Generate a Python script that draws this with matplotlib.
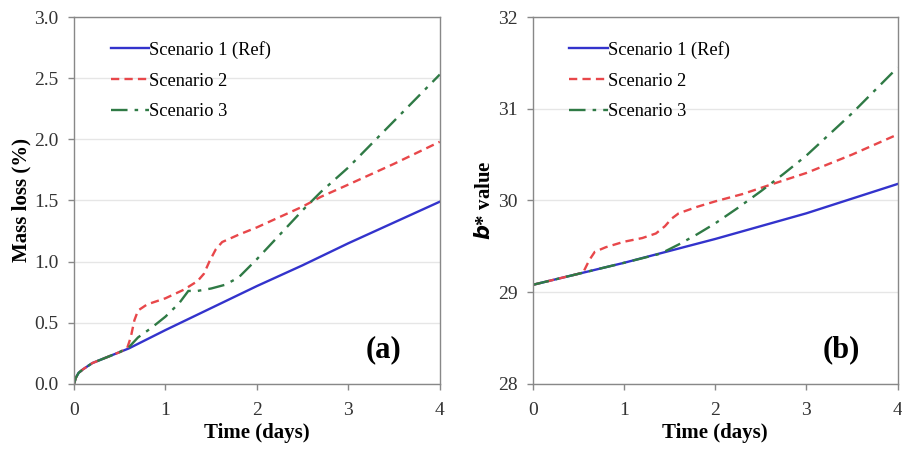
import numpy as np
import matplotlib
matplotlib.use('Agg')
import matplotlib.pyplot as plt

plt.rcParams['font.family'] = ['Liberation Serif', 'DejaVu Serif']

# panel (a): mass loss (%)
t1_a = [0, 0.02, 0.05, 0.1, 0.2, 0.3, 0.4, 0.5, 0.6, 1.0, 1.5, 2.0, 2.5, 3.0, 3.5, 4.0]
s1_a = [0, 0.05, 0.09, 0.12, 0.17, 0.20, 0.23, 0.26, 0.29, 0.44, 0.62, 0.80, 0.97, 1.15, 1.32, 1.49]

t2_a = [0, 0.02, 0.05, 0.1, 0.2, 0.3, 0.4, 0.5, 0.58, 0.62, 0.66, 0.7, 0.8, 1.0, 1.2, 1.35, 1.42,
        1.48, 1.55, 1.62, 1.8, 2.0, 2.5, 2.7, 3.0, 3.5, 4.0]
s2_a = [0, 0.05, 0.09, 0.12, 0.17, 0.20, 0.23, 0.26, 0.29, 0.38, 0.52, 0.60, 0.65, 0.70, 0.77,
        0.84, 0.90, 1.00, 1.10, 1.16, 1.22, 1.28, 1.45, 1.53, 1.63, 1.80, 1.98]

t3_a = [0, 0.02, 0.05, 0.1, 0.2, 0.3, 0.4, 0.5, 0.6, 0.7, 0.85, 1.0, 1.15, 1.25, 1.35, 1.5,
        1.65, 1.8, 2.0, 2.25, 2.5, 2.7, 3.0, 3.5, 4.0]
s3_a = [0, 0.05, 0.09, 0.12, 0.17, 0.20, 0.23, 0.26, 0.30, 0.38, 0.46, 0.55, 0.66, 0.76, 0.76,
        0.78, 0.81, 0.87, 1.02, 1.22, 1.42, 1.57, 1.77, 2.15, 2.53]

# panel (b): b* value
t1_b = [0, 0.5, 1.0, 1.5, 2.0, 2.5, 3.0, 3.5, 4.0]
s1_b = [29.08, 29.20, 29.32, 29.45, 29.58, 29.72, 29.86, 30.02, 30.18]

t2_b = [0, 0.5, 0.56, 0.62, 0.68, 0.8, 1.0, 1.2, 1.35, 1.45, 1.52, 1.6, 1.8, 2.0, 2.3, 2.6,
        3.0, 3.5, 4.0]
s2_b = [29.08, 29.20, 29.23, 29.35, 29.44, 29.49, 29.55, 29.59, 29.64, 29.72, 29.80, 29.86,
        29.93, 29.99, 30.07, 30.17, 30.30, 30.50, 30.72]

t3_b = [0, 0.5, 1.0, 1.4, 1.6, 1.8, 2.0, 2.25, 2.5, 2.75, 3.0, 3.5, 4.0]
s3_b = [29.08, 29.20, 29.32, 29.42, 29.52, 29.63, 29.75, 29.92, 30.10, 30.29, 30.49, 30.95, 31.45]

labels = ['Scenario 1 (Ref)', 'Scenario 2', 'Scenario 3']
colors = ['#3333cc', '#e8474a', '#2f7a45']

fig = plt.figure(figsize=(9.03, 4.5), dpi=100)
ax1 = fig.add_axes([0.082, 0.147, 0.405, 0.815])
ax2 = fig.add_axes([0.590, 0.147, 0.404, 0.815])

def style(ax):
    for s in ax.spines.values():
        s.set_color('#888888')
        s.set_linewidth(1.0)
    ax.yaxis.grid(True, color='#e6e6e6', linewidth=1.0)
    ax.set_axisbelow(True)
    ax.tick_params(direction='out', length=4, width=1, color='#888888',
                   labelsize=14, labelcolor='#333333')
    ax.tick_params(axis='x', pad=9)
    ax.tick_params(axis='y', pad=7)
    ax.set_xlim(0, 4)
    ax.set_xticks([0, 1, 2, 3, 4])

def add_legend(ax):
    ax.legend(loc='upper left', frameon=False, fontsize=13.2, handlelength=2.1,
              handletextpad=0.0, bbox_to_anchor=(0.055, 0.98), labelspacing=0.75)

ax1.plot(t1_a, s1_a, color=colors[0], lw=1.7, label=labels[0])
ax1.plot(t2_a, s2_a, color=colors[1], lw=1.7, ls=(0, (3.5, 2.2)), label=labels[1])
ax1.plot(t3_a, s3_a, color=colors[2], lw=1.7, ls=(0, (7, 3, 1.5, 3)), label=labels[2])
style(ax1)
ax1.set_ylim(0, 3.0)
ax1.set_yticks(np.arange(0, 3.01, 0.5))
ax1.yaxis.set_major_formatter(matplotlib.ticker.FormatStrFormatter('%.1f'))
ax1.set_xlabel('Time (days)', fontsize=15, fontweight='bold', labelpad=3)
ax1.set_ylabel('Mass loss (%)', fontsize=15, fontweight='bold', labelpad=2)
ax1.text(0.847, 0.093, '(a)', transform=ax1.transAxes, fontsize=22, fontweight='bold',
         ha='center', va='center')
add_legend(ax1)

ax2.plot(t1_b, s1_b, color=colors[0], lw=1.7, label=labels[0])
ax2.plot(t2_b, s2_b, color=colors[1], lw=1.7, ls=(0, (3.5, 2.2)), label=labels[1])
ax2.plot(t3_b, s3_b, color=colors[2], lw=1.7, ls=(0, (7, 3, 1.5, 3)), label=labels[2])
style(ax2)
ax2.set_ylim(28, 32)
ax2.set_yticks([28, 29, 30, 31, 32])
ax2.set_xlabel('Time (days)', fontsize=15, fontweight='bold', labelpad=3)
ax2.set_ylabel('$\\mathbfit{b}$* value', fontsize=15, fontweight='bold', labelpad=2)
ax2.text(0.847, 0.093, '(b)', transform=ax2.transAxes, fontsize=22, fontweight='bold',
         ha='center', va='center')
add_legend(ax2)

fig.savefig('out.png', dpi=100)
